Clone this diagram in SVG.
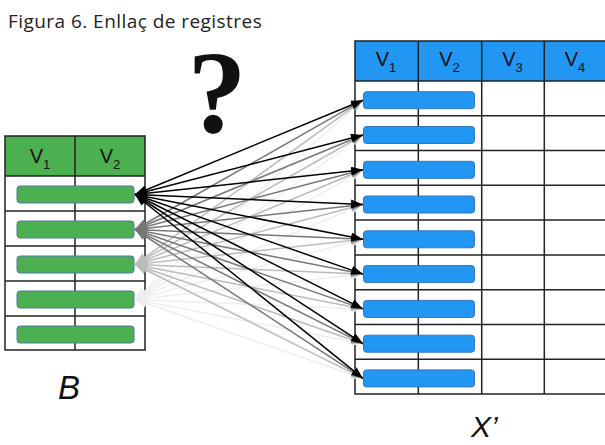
<svg xmlns="http://www.w3.org/2000/svg" width="605" height="445" viewBox="0 0 605 445">
<style>
.tl{fill:none;stroke:#222;stroke-width:1.5}
.gbar{fill:#4CAF50;stroke:#4f7aa8;stroke-width:1}
.bbar{fill:#2196F3;stroke:#3576b8;stroke-width:1}
.hd{font-family:"Liberation Sans",Arial,sans-serif;font-size:20px;fill:#111}
.sb{font-size:13px}
.c0{stroke:#000;stroke-width:1.5;marker-start:url(#m0);marker-end:url(#m0)}
.c1{stroke:#777;stroke-width:1.5;marker-start:url(#m1);marker-end:url(#m1)}
.c2{stroke:#bbb;stroke-width:1.5;marker-start:url(#m2);marker-end:url(#m2)}
.c3{stroke:#eee;stroke-width:1.5;marker-start:url(#m3);marker-end:url(#m3)}
</style>
<defs>
<marker id="m0" viewBox="0 0 12 9" refX="12" refY="4.5" markerWidth="12" markerHeight="9" markerUnits="userSpaceOnUse" orient="auto-start-reverse"><path d="M0,0 L12,4.5 L0,9 z" fill="#000"/></marker>
<marker id="m1" viewBox="0 0 12 9" refX="12" refY="4.5" markerWidth="12" markerHeight="9" markerUnits="userSpaceOnUse" orient="auto-start-reverse"><path d="M0,0 L12,4.5 L0,9 z" fill="#777"/></marker>
<marker id="m2" viewBox="0 0 12 9" refX="12" refY="4.5" markerWidth="12" markerHeight="9" markerUnits="userSpaceOnUse" orient="auto-start-reverse"><path d="M0,0 L12,4.5 L0,9 z" fill="#bbb"/></marker>
<marker id="m3" viewBox="0 0 12 9" refX="12" refY="4.5" markerWidth="12" markerHeight="9" markerUnits="userSpaceOnUse" orient="auto-start-reverse"><path d="M0,0 L12,4.5 L0,9 z" fill="#eee"/></marker>
</defs>
<rect width="605" height="445" fill="#fff"/>
<text id="title" x="8" y="28" font-family="'Open Sans','Noto Sans',sans-serif" font-size="19" letter-spacing="0.45" fill="#222">Figura 6. Enllaç de registres</text>
<text id="question" x="217" y="132" text-anchor="middle" font-family="'Liberation Serif','Times New Roman',serif" font-size="118" font-weight="bold" fill="#111">?</text>

<g id="tableB">
<rect x="5" y="136" width="140" height="40" fill="#4CAF50"/>
<rect class="tl" x="5" y="136" width="140" height="214"/>
<line class="tl" x1="75" y1="136" x2="75" y2="350"/>
<line class="tl" x1="5" y1="176" x2="145" y2="176"/>
<line class="tl" x1="5" y1="211" x2="145" y2="211"/>
<line class="tl" x1="5" y1="246" x2="145" y2="246"/>
<line class="tl" x1="5" y1="281" x2="145" y2="281"/>
<line class="tl" x1="5" y1="316" x2="145" y2="316"/>
<text class="hd" x="40" y="163" text-anchor="middle">V<tspan class="sb" dy="6">1</tspan></text>
<text class="hd" x="110" y="163" text-anchor="middle">V<tspan class="sb" dy="6">2</tspan></text>
<rect class="gbar" x="17" y="186" width="117" height="17" rx="3"/>
<rect class="gbar" x="17" y="221" width="117" height="17" rx="3"/>
<rect class="gbar" x="17" y="256" width="117" height="17" rx="3"/>
<rect class="gbar" x="17" y="291" width="117" height="17" rx="3"/>
<rect class="gbar" x="17" y="326" width="117" height="17" rx="3"/>
</g>

<g id="tableX">
<rect x="355" y="41" width="255" height="40" fill="#2196F3"/>
<rect class="tl" x="355" y="41" width="255" height="353"/>
<line class="tl" x1="418.3" y1="41" x2="418.3" y2="394"/>
<line class="tl" x1="481.7" y1="41" x2="481.7" y2="394"/>
<line class="tl" x1="544.3" y1="41" x2="544.3" y2="394"/>
<line class="tl" x1="355" y1="81" x2="610" y2="81"/>
<line class="tl" x1="355" y1="115.8" x2="610" y2="115.8"/>
<line class="tl" x1="355" y1="150.6" x2="610" y2="150.6"/>
<line class="tl" x1="355" y1="185.3" x2="610" y2="185.3"/>
<line class="tl" x1="355" y1="220.1" x2="610" y2="220.1"/>
<line class="tl" x1="355" y1="254.9" x2="610" y2="254.9"/>
<line class="tl" x1="355" y1="289.7" x2="610" y2="289.7" stroke="#777"/>
<line class="tl" x1="355" y1="324.5" x2="610" y2="324.5"/>
<line class="tl" x1="355" y1="359.2" x2="610" y2="359.2"/>
<text class="hd" x="386" y="66" text-anchor="middle">V<tspan class="sb" dy="6">1</tspan></text>
<text class="hd" x="449.5" y="66" text-anchor="middle">V<tspan class="sb" dy="6">2</tspan></text>
<text class="hd" x="512.5" y="66" text-anchor="middle">V<tspan class="sb" dy="6">3</tspan></text>
<text class="hd" x="575" y="66" text-anchor="middle">V<tspan class="sb" dy="6">4</tspan></text>
<rect class="bbar" x="363.5" y="91.7" width="111" height="17" rx="3"/>
<rect class="bbar" x="363.5" y="126.5" width="111" height="17" rx="3"/>
<rect class="bbar" x="363.5" y="161.3" width="111" height="17" rx="3"/>
<rect class="bbar" x="363.5" y="196" width="111" height="17" rx="3"/>
<rect class="bbar" x="363.5" y="230.8" width="111" height="17" rx="3"/>
<rect class="bbar" x="363.5" y="265.6" width="111" height="17" rx="3"/>
<rect class="bbar" x="363.5" y="300.4" width="111" height="17" rx="3"/>
<rect class="bbar" x="363.5" y="335.2" width="111" height="17" rx="3"/>
<rect class="bbar" x="363.5" y="369.9" width="111" height="17" rx="3"/>
</g>

<g id="connectors">
<g class="c3">
<line x1="135" y1="299.5" x2="363" y2="100.2"/><line x1="135" y1="299.5" x2="363" y2="135"/><line x1="135" y1="299.5" x2="363" y2="169.8"/><line x1="135" y1="299.5" x2="363" y2="204.5"/><line x1="135" y1="299.5" x2="363" y2="239.3"/><line x1="135" y1="299.5" x2="363" y2="274.1"/><line x1="135" y1="299.5" x2="363" y2="308.9"/><line x1="135" y1="299.5" x2="363" y2="343.7"/><line x1="135" y1="299.5" x2="363" y2="378.4"/>
</g>
<g class="c2">
<line x1="135" y1="264.5" x2="363" y2="100.2"/><line x1="135" y1="264.5" x2="363" y2="135"/><line x1="135" y1="264.5" x2="363" y2="169.8"/><line x1="135" y1="264.5" x2="363" y2="204.5"/><line x1="135" y1="264.5" x2="363" y2="239.3"/><line x1="135" y1="264.5" x2="363" y2="274.1"/><line x1="135" y1="264.5" x2="363" y2="308.9"/><line x1="135" y1="264.5" x2="363" y2="343.7"/><line x1="135" y1="264.5" x2="363" y2="378.4"/>
</g>
<g class="c1">
<line x1="135" y1="229.5" x2="363" y2="100.2"/><line x1="135" y1="229.5" x2="363" y2="135"/><line x1="135" y1="229.5" x2="363" y2="169.8"/><line x1="135" y1="229.5" x2="363" y2="204.5"/><line x1="135" y1="229.5" x2="363" y2="239.3"/><line x1="135" y1="229.5" x2="363" y2="274.1"/><line x1="135" y1="229.5" x2="363" y2="308.9"/><line x1="135" y1="229.5" x2="363" y2="343.7"/><line x1="135" y1="229.5" x2="363" y2="378.4"/>
</g>
<g class="c0">
<line x1="135" y1="194.5" x2="363" y2="100.2"/><line x1="135" y1="194.5" x2="363" y2="135"/><line x1="135" y1="194.5" x2="363" y2="169.8"/><line x1="135" y1="194.5" x2="363" y2="204.5"/><line x1="135" y1="194.5" x2="363" y2="239.3"/><line x1="135" y1="194.5" x2="363" y2="274.1"/><line x1="135" y1="194.5" x2="363" y2="308.9"/><line x1="135" y1="194.5" x2="363" y2="343.7"/><line x1="135" y1="194.5" x2="363" y2="378.4"/>
</g>
</g>

<text id="labelB" x="58" y="399" font-family="'Liberation Sans',Arial,sans-serif" font-size="33" font-style="italic" fill="#111">B</text>
<text id="labelX" x="471" y="437" font-family="'Liberation Sans',Arial,sans-serif" font-size="30" font-style="italic" fill="#111">X’</text>
</svg>
